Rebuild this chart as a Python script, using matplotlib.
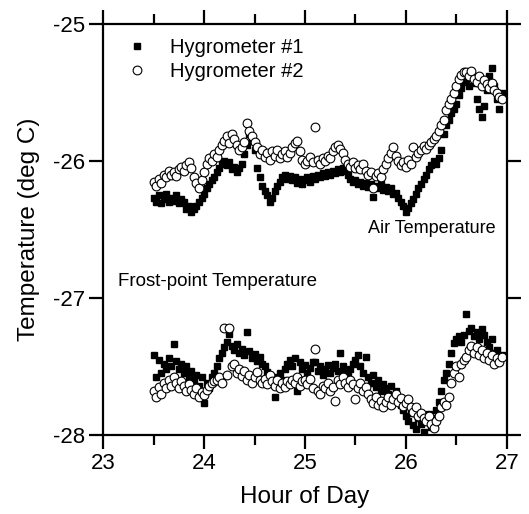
import numpy as np
import matplotlib
matplotlib.use("Agg")
import matplotlib.pyplot as plt
from matplotlib.ticker import MultipleLocator

plt.rcParams['font.family'] = ['Liberation Sans', 'DejaVu Sans']
plt.rcParams['axes.unicode_minus'] = False

# sampling times (hours), one reading every 1.5 minutes
hours = np.round(np.arange(23.5, 26.951, 0.025), 3)

# Air temperature, hygrometer #1 (filled squares)
air_h1 = [
    -26.27, -26.30, -26.25, -26.31, -26.28, -26.24, -26.30, -26.27,
    -26.29, -26.25, -26.31, -26.28, -26.30, -26.35, -26.33, -26.37,
    -26.35, -26.33, -26.30, -26.27, -26.24, -26.20, -26.17, -26.14,
    -26.12, -26.08, -26.05, -26.02, -26.00, -26.03, -26.01, -26.06,
    -26.04, -26.08, -26.05, -26.02, -25.95, -25.88, -25.80, -25.85,
    -25.92, -26.05, -26.12, -26.18, -26.22, -26.25, -26.30, -26.27,
    -26.22, -26.18, -26.15, -26.12, -26.10, -26.13, -26.11, -26.14,
    -26.12, -26.16, -26.13, -26.17, -26.14, -26.12, -26.15, -26.11,
    -26.13, -26.10, -26.12, -26.09, -26.11, -26.08, -26.10, -26.07,
    -26.09, -26.06, -26.08, -26.05, -26.07, -26.10, -26.13, -26.15,
    -26.14, -26.17, -26.15, -26.18, -26.16, -26.19, -26.17, -26.26,
    -26.18, -26.20, -26.17, -26.21, -26.19, -26.22, -26.20, -26.24,
    -26.23, -26.27, -26.30, -26.33, -26.37, -26.34, -26.31, -26.28,
    -26.24, -26.20, -26.17, -26.13, -26.10, -26.06, -26.03, -26.00,
    -26.02, -25.98, -25.92, -25.80, -25.74, -25.70, -25.65, -25.62,
    -25.58, -25.52, -25.47, -25.42, -25.40, -25.45, -25.38, -25.43,
    -25.55, -25.62, -25.68, -25.60, -25.48, -25.38, -25.32, -25.45,
    -25.55, -25.62, -25.50,
]

# Air temperature, hygrometer #2 (open circles)
air_h2 = [
    -26.15, -26.18, -26.13, -26.16, -26.10, -26.12, -26.07, -26.10,
    -26.08, -26.11, -26.06, -26.04, -26.07, -26.03, -26.01, -26.05,
    -26.12, -26.16, -26.20, -26.14, -26.08, -26.02, -25.98, -26.00,
    -25.95, -25.97, -25.92, -25.88, -25.85, -25.82, -25.87, -25.80,
    -25.84, -25.88, -25.92, -25.90, -25.86, -25.72, -25.78, -25.82,
    -25.86, -25.90, -25.95, -25.92, -25.97, -25.94, -25.99, -25.93,
    -25.96, -25.92, -25.98, -25.95, -25.93, -25.97, -25.94, -25.90,
    -25.87, -25.85, -25.93, -25.99, -26.02, -26.00, -25.97, -26.01,
    -25.75, -25.99, -26.02, -25.98, -26.00, -25.96, -25.98, -25.93,
    -25.90, -25.88, -25.91, -25.94, -25.99, -26.02, -26.04, -26.01,
    -26.05, -26.03, -26.06, -26.02, -26.07, -26.10, -26.08, -26.20,
    -26.11, -26.09, -26.12, -26.06, -26.02, -25.98, -25.94, -25.90,
    -25.96, -26.00, -26.03, -26.01, -26.04, -25.99, -26.02, -25.90,
    -25.97, -25.94, -25.92, -25.89, -25.91, -25.88, -25.86, -25.84,
    -25.82, -25.78, -25.74, -25.70, -25.63, -25.58, -25.55, -25.50,
    -25.45, -25.40, -25.37, -25.35, -25.35, -25.38, -25.34, -25.40,
    -25.42, -25.38, -25.45, -25.41, -25.44, -25.47, -25.43, -25.48,
    -25.50, -25.53, -25.55,
]

# Frost-point temperature, hygrometer #1 (filled squares)
frost_h1 = [
    -27.42, -27.58, -27.45, -27.55, -27.48, -27.52, -27.44, -27.50,
    -27.34, -27.46, -27.52, -27.48, -27.55, -27.50, -27.58, -27.53,
    -27.60, -27.56, -27.64, -27.58, -27.77, -27.62, -27.66, -27.58,
    -27.55, -27.50, -27.44, -27.40, -27.36, -27.32, -27.26, -27.35,
    -27.38, -27.34, -27.40, -27.37, -27.42, -27.25, -27.39, -27.44,
    -27.41, -27.46, -27.43, -27.48, -27.50, -27.54, -27.57, -27.62,
    -27.72, -27.58, -27.55, -27.60, -27.52, -27.48, -27.45, -27.50,
    -27.44, -27.68, -27.47, -27.52, -27.49, -27.55, -27.51, -27.47,
    -27.47, -27.53, -27.50, -27.56, -27.52, -27.49, -27.55, -27.51,
    -27.48, -27.53, -27.40, -27.50, -27.54, -27.57, -27.52, -27.48,
    -27.45, -27.42, -27.50, -27.55, -27.43, -27.58, -27.62, -27.56,
    -27.65, -27.60, -27.68, -27.63, -27.66, -27.70, -27.64, -27.72,
    -27.68, -27.75, -27.78, -27.82, -27.86, -27.90, -27.84, -27.93,
    -27.96, -27.88, -27.92, -27.98, -27.90, -27.85, -27.94, -27.88,
    -27.82, -27.76, -27.68, -27.60, -27.55, -27.48, -27.40, -27.33,
    -27.30, -27.28, -27.32, -27.27, -27.12, -27.24, -27.22, -27.28,
    -27.25, -27.30, -27.23, -27.27, -27.32, -27.36, -27.30, -27.40,
    -27.38, -27.45, -27.42,
]

# Frost-point temperature, hygrometer #2 (open circles)
frost_h2 = [
    -27.68, -27.72, -27.65, -27.70, -27.62, -27.66, -27.60, -27.64,
    -27.58, -27.62, -27.66, -27.61, -27.64, -27.68, -27.63, -27.67,
    -27.70, -27.66, -27.72, -27.69, -27.71, -27.67, -27.64, -27.62,
    -27.61, -27.60, -27.58, -27.62, -27.22, -27.56, -27.22, -27.50,
    -27.48, -27.55, -27.52, -27.57, -27.53, -27.60, -27.56, -27.62,
    -27.58, -27.54, -27.60, -27.62, -27.59, -27.63, -27.56, -27.61,
    -27.64, -27.60, -27.66, -27.62, -27.65, -27.61, -27.63, -27.60,
    -27.62, -27.58, -27.64, -27.61, -27.60, -27.63, -27.59, -27.66,
    -27.37, -27.68, -27.70, -27.64, -27.66, -27.62, -27.68, -27.65,
    -27.75, -27.60, -27.63, -27.58, -27.62, -27.65, -27.60, -27.63,
    -27.74, -27.66, -27.62, -27.68, -27.65, -27.70, -27.74, -27.77,
    -27.72, -27.78, -27.75, -27.80, -27.76, -27.72, -27.78, -27.74,
    -27.70, -27.76, -27.73, -27.79, -27.77, -27.74, -27.80, -27.83,
    -27.80, -27.86, -27.84, -27.88, -27.90, -27.86, -27.92, -27.95,
    -27.90, -27.86, -27.80, -27.76, -27.78, -27.72, -27.62, -27.55,
    -27.50, -27.58, -27.48, -27.45, -27.43, -27.38, -27.35, -27.40,
    -27.36, -27.42, -27.38, -27.44, -27.40, -27.45, -27.42, -27.48,
    -27.44, -27.47, -27.43,
]

fig = plt.figure(figsize=(5.29, 5.14), dpi=100)
ax = fig.add_axes([0.195, 0.154, 0.763, 0.799])

sq = dict(marker='s', linestyle='none', color='black', markersize=5)
ci = dict(marker='o', linestyle='none', markerfacecolor='white',
          markeredgecolor='black', markersize=6.3, markeredgewidth=0.8)

ax.plot(hours, air_h1, label='Hygrometer #1', **sq)
ax.plot(hours, air_h2, label='Hygrometer #2', **ci)
ax.plot(hours, frost_h1, **sq)
ax.plot(hours, frost_h2, **ci)

ax.set_xlim(23, 27)
ax.set_ylim(-28, -25)
ax.xaxis.set_major_locator(MultipleLocator(1))
ax.xaxis.set_minor_locator(MultipleLocator(0.5))
ax.yaxis.set_major_locator(MultipleLocator(1))

for s in ax.spines.values():
    s.set_linewidth(1.6)
ax.tick_params(which='both', direction='out', top=True, right=True,
               width=1.6, labelsize=16)
ax.tick_params(which='major', length=10, pad=3)
ax.tick_params(which='minor', length=7)

ax.set_xlabel('Hour of Day', fontsize=17.5, labelpad=9)
ax.set_ylabel('Temperature (deg C)', fontsize=17.5, labelpad=9)

ax.text(25.62, -26.49, 'Air Temperature', fontsize=13, va='center')
ax.text(23.15, -26.88, 'Frost-point Temperature', fontsize=13.5, va='center')

ax.legend(loc='upper left', frameon=False, fontsize=14.5, handletextpad=0.6,
          borderaxespad=0.3, labelspacing=0.25)

fig.savefig('out.png', dpi=100)
